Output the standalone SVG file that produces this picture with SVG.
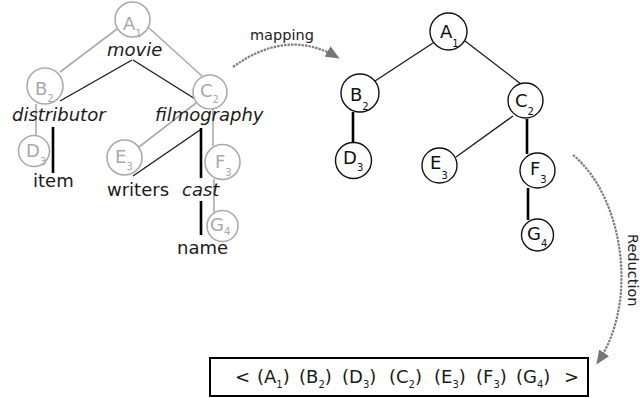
<svg xmlns="http://www.w3.org/2000/svg" width="642" height="398" viewBox="0 0 642 398">
  <style>
    text { font-family: "DejaVu Sans", "Liberation Sans", sans-serif; }
    .gc { fill: #fff; stroke: #ababab; stroke-width: 1.6; }
    .bc { fill: #fff; stroke: #111; stroke-width: 1.4; }
    .glab { fill: #a8a8a8; font-size: 18px; }
    .blab { fill: #111; font-size: 18px; }
    .sub { font-size: 10px; }
    .tag { fill: #1a1a1a; font-size: 18px; }
    .it { font-style: italic; }
    .gedge { stroke: #ababab; stroke-width: 1.6; fill: none; }
    .thin { stroke: #1a1a1a; stroke-width: 1.3; fill: none; }
    .thick { stroke: #000; stroke-width: 2.6; fill: none; }
    .flow { stroke: #7e7e7e; stroke-width: 2.2; stroke-dasharray: 2.5 1; fill: none; }
    .note { fill: #222; font-size: 14.5px; }
  </style>
  <defs>
    <marker id="head" markerWidth="14" markerHeight="12" refX="11" refY="6" orient="auto" markerUnits="userSpaceOnUse">
      <path d="M0,0 L14,6 L0,12 Z" fill="#767676"/>
    </marker>
  </defs>

  <!-- connectors: labelled source tree, mapped tree, and the two transform arrows -->
  <g id="connectors">
    <!-- grey node tree -->
    <line class="gedge" x1="117" y1="29" x2="60" y2="72"/>
    <line class="gedge" x1="149" y1="28" x2="203" y2="77"/>
    <line class="gedge" x1="36" y1="104" x2="36" y2="136"/>
    <line class="gedge" x1="196" y1="103" x2="139" y2="147"/>
    <line class="gedge" x1="213" y1="108" x2="213" y2="146"/>
    <line class="gedge" x1="214" y1="179" x2="214" y2="213"/>
    <!-- element tree -->
    <line class="thin" x1="132" y1="60" x2="60" y2="101"/>
    <line class="thin" x1="133" y1="60" x2="200" y2="102"/>
    <line class="thick" x1="53" y1="127" x2="53" y2="173"/>
    <line class="thin" x1="200" y1="130" x2="133" y2="176"/>
    <line class="thick" x1="201" y1="128" x2="201" y2="178"/>
    <line class="thick" x1="201" y1="201" x2="201" y2="235"/>
    <!-- mapped tree -->
    <line class="thin" x1="433" y1="43" x2="375" y2="81"/>
    <line class="thin" x1="465" y1="41" x2="521" y2="84"/>
    <line class="thick" x1="353" y1="112" x2="353" y2="143"/>
    <line class="thin" x1="513" y1="116" x2="456" y2="157"/>
    <line class="thick" x1="527" y1="119" x2="527" y2="154"/>
    <line class="thick" x1="528" y1="188" x2="528" y2="220"/>
    <!-- transforms -->
    <path class="flow" d="M233,67 Q287,28 337,57" marker-end="url(#head)"/>
    <path class="flow" d="M573,155 C622,195 640,300 598,362" marker-end="url(#head)"/>
  </g>

  <!-- element labels -->
  <g id="labels">
    <text class="tag it" x="107" y="56">movie</text>
    <text class="tag it" x="12" y="121">distributor</text>
    <text class="tag it" x="155" y="121">filmography</text>
    <text class="tag" x="33" y="187">item</text>
    <text class="tag" x="107" y="196">writers</text>
    <text class="tag it" x="182" y="196">cast</text>
    <text class="tag" x="177" y="254">name</text>
    <text class="note" x="250" y="40">mapping</text>
    <text class="note" font-size="13.5" transform="translate(628,234) rotate(90)">Reduction</text>
  </g>

  <!-- grey (source) nodes -->
  <g id="srcA1"><circle class="gc" cx="132.5" cy="19.5" r="17.5"/><text class="glab" x="123" y="30">A<tspan class="sub" dy="7">1</tspan></text></g>
  <g id="srcB2"><circle class="gc" cx="45" cy="86" r="18"/><text class="glab" x="35" y="95">B<tspan class="sub" dy="7">2</tspan></text></g>
  <g id="srcC2"><circle class="gc" cx="210" cy="92" r="17"/><text class="glab" x="200" y="97">C<tspan class="sub" dy="6">2</tspan></text></g>
  <g id="srcD3"><circle class="gc" cx="34" cy="151" r="15.5"/><text class="glab" x="26" y="157">D<tspan class="sub" dy="8">3</tspan></text></g>
  <g id="srcE3"><circle class="gc" cx="124.5" cy="157.5" r="17.5"/><text class="glab" x="115" y="163">E<tspan class="sub" dy="7">3</tspan></text></g>
  <g id="srcF3"><circle class="gc" cx="222.5" cy="162" r="17.5"/><text class="glab" x="215" y="168">F<tspan class="sub" dy="8">3</tspan></text></g>
  <g id="srcG4"><circle class="gc" cx="222.5" cy="226" r="15.5"/><text class="glab" x="210" y="231">G<tspan class="sub" dy="4">4</tspan></text></g>

  <!-- black (mapped) nodes -->
  <g id="A1"><circle class="bc" cx="448.5" cy="31.5" r="18.5"/><text class="blab" x="440" y="38">A<tspan class="sub" dy="9">1</tspan></text></g>
  <g id="B2"><circle class="bc" cx="360" cy="93" r="19"/><text class="blab" x="350" y="101">B<tspan class="sub" dy="9">2</tspan></text></g>
  <g id="C2"><circle class="bc" cx="525.5" cy="100.5" r="17.5"/><text class="blab" x="515" y="107">C<tspan class="sub" dy="8">2</tspan></text></g>
  <g id="D3"><circle class="bc" cx="353.5" cy="160.5" r="18"/><text class="blab" x="343" y="164">D<tspan class="sub" dy="7">3</tspan></text></g>
  <g id="E3"><circle class="bc" cx="439.5" cy="165.5" r="17.5"/><text class="blab" x="430" y="169">E<tspan class="sub" dy="10">3</tspan></text></g>
  <g id="F3"><circle class="bc" cx="537.5" cy="170.5" r="17.5"/><text class="blab" x="530" y="175">F<tspan class="sub" dy="8">3</tspan></text></g>
  <g id="G4"><circle class="bc" cx="537.5" cy="235" r="16"/><text class="blab" x="527" y="240">G<tspan class="sub" dy="7">4</tspan></text></g>

  <!-- reduced sequence -->
  <g id="sequence">
    <rect x="210" y="358" width="378" height="38" fill="#fff" stroke="#000" stroke-width="2"/>
    <text class="tag" font-size="19" y="383"><tspan x="235">&lt;</tspan><tspan x="257">(A<tspan class="sub" font-size="11" dy="5">1</tspan><tspan dy="-5">)</tspan></tspan><tspan x="299">(B<tspan class="sub" font-size="11" dy="5">2</tspan><tspan dy="-5">)</tspan></tspan><tspan x="342">(D<tspan class="sub" font-size="11" dy="5">3</tspan><tspan dy="-5">)</tspan></tspan><tspan x="389">(C<tspan class="sub" font-size="11" dy="5">2</tspan><tspan dy="-5">)</tspan></tspan><tspan x="434">(E<tspan class="sub" font-size="11" dy="5">3</tspan><tspan dy="-5">)</tspan></tspan><tspan x="476">(F<tspan class="sub" font-size="11" dy="5">3</tspan><tspan dy="-5">)</tspan></tspan><tspan x="516">(G<tspan class="sub" font-size="11" dy="5">4</tspan><tspan dy="-5">)</tspan></tspan><tspan x="564">&gt;</tspan></text>
  </g>
</svg>
